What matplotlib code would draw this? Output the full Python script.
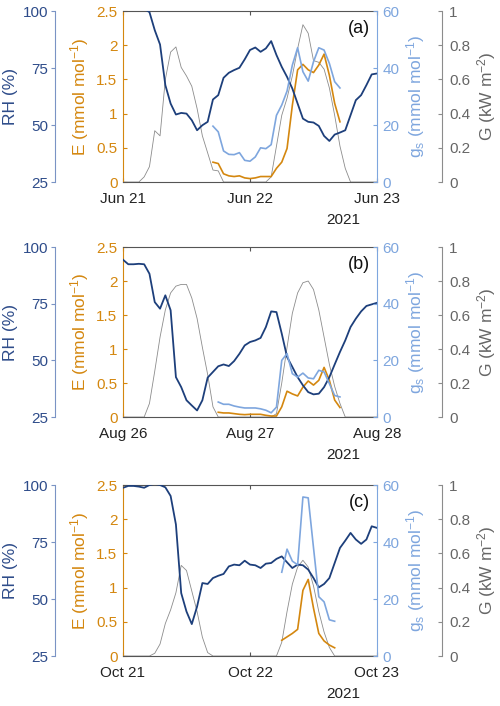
import numpy as np
import matplotlib.pyplot as plt
from matplotlib.ticker import FuncFormatter

plt.rcParams['font.family'] = ['Liberation Sans', 'DejaVu Sans']
plt.rcParams['mathtext.fontset'] = 'custom'
plt.rcParams['mathtext.rm'] = 'Liberation Sans'
plt.rcParams['mathtext.it'] = 'Liberation Sans:italic'

# hourly samples over two days
hours = np.arange(49)

# ---- panel (a): Jun 21-23
dates_a = ['Jun 21', 'Jun 22', 'Jun 23']
rh_a = [101, 101, 101, 101, 101, 99.5, 91.6, 85.3, 67.5, 59.4, 54.6, 55.3, 55.0, 52.1, 47.7,
        49.9, 51.4, 61.2, 63.1, 70.7, 72.9, 74.1, 75.1, 78.8, 82.9, 84.0, 82.1, 83.6, 86.8,
        80.7, 75.5, 71.1, 66.0, 59.4, 52.8, 51.4, 51.1, 49.6, 45.2, 43.0, 45.8, 46.7, 47.7,
        54.3, 60.9, 63.1, 67.5, 72.2, 72.6]
g_a = [0, 0, 0, 0, 0.03, 0.09, 0.30, 0.27, 0.60, 0.76, 0.79, 0.67, 0.62, 0.56, 0.43, 0.27,
       0.17, 0.07, 0.065, 0, 0, 0, 0, 0, 0, 0, 0, 0, 0.03, 0.21, 0.39, 0.49, 0.62, 0.78, 0.92,
       0.87, 0.71, 0.70, 0.66, 0.55, 0.39, 0.21, 0.08, 0, 0, 0, 0, 0, 0]
e_a_start = 17
e_a = [0.29, 0.27, 0.12, 0.09, 0.08, 0.09, 0.06, 0.05, 0.06, 0.08, 0.08, 0.08, 0.20, 0.29,
       0.49, 1.12, 1.64, 1.72, 1.64, 1.60, 1.71, 1.87, 1.56, 1.15, 0.88]
gs_a_start = 17
gs_a = [19.6, 17.6, 10.9, 9.7, 9.6, 10.3, 7.6, 7.3, 8.8, 12.0, 11.7, 13.1, 23.4, 27.0, 31.9,
        41.0, 47.1, 38.7, 35.4, 42.2, 47.1, 46.3, 41.6, 35.2, 33.0]

# ---- panel (b): Aug 26-28
dates_b = ['Aug 26', 'Aug 27', 'Aug 28']
rh_b = [94.4, 92.4, 92.4, 92.6, 92.4, 88.2, 75.7, 72.8, 78.7, 72.1, 42.6, 38.2, 32.4, 30.1,
        27.9, 32.4, 42.4, 44.9, 47.4, 48.2, 47.5, 49.7, 52.9, 56.6, 58.1, 58.8, 59.9, 64.7,
        71.6, 71.3, 61.8, 51.5, 47.1, 42.6, 39.0, 36.0, 35.0, 35.3, 38.2, 42.6, 48.2, 53.7,
        58.8, 64.7, 68.4, 71.6, 74.0, 74.7, 75.4]
g_b = [0, 0, 0, 0, 0, 0.08, 0.27, 0.47, 0.63, 0.73, 0.77, 0.78, 0.78, 0.70, 0.58, 0.41, 0.25,
       0.06, 0, 0, 0, 0, 0, 0, 0, 0, 0, 0, 0, 0.02, 0.20, 0.41, 0.61, 0.73, 0.79, 0.80, 0.75,
       0.63, 0.47, 0.31, 0.18, 0.08, 0, 0, 0, 0, 0, 0, 0]
e_b_start = 18
e_b = [0.07, 0.06, 0.06, 0.05, 0.04, 0.035, 0.04, 0.04, 0.04, 0.025, 0.015, 0.015, 0.15,
       0.38, 0.34, 0.31, 0.44, 0.53, 0.47, 0.54, 0.73, 0.54, 0.25, 0.14]
gs_b_start = 18
gs_b = [5.3, 4.5, 4.5, 3.9, 3.5, 3.2, 3.2, 3.2, 2.9, 2.4, 1.5, 3.5, 20.0, 22.4, 15.3, 14.1,
        15.5, 13.8, 13.5, 16.5, 15.9, 11.8, 7.6, 7.1]

# ---- panel (c): Oct 21-23
dates_c = ['Oct 21', 'Oct 22', 'Oct 23']
rh_c = [98.8, 99.6, 99.6, 99.3, 98.8, 100, 100.5, 100, 99.0, 95.2, 82.7, 52.6, 44.5, 39.0,
        46.7, 57.0, 56.6, 59.2, 60.2, 61.0, 64.3, 65.1, 64.8, 66.8, 65.1, 64.8, 63.6, 65.5,
        65.8, 67.6, 68.7, 66.1, 63.6, 65.1, 64.8, 62.9, 59.2, 55.1, 56.6, 59.2, 65.8, 72.4,
        75.6, 79.0, 76.1, 74.2, 76.1, 81.9, 81.2]
g_c = [0, 0, 0, 0, 0, 0, 0.016, 0.07, 0.19, 0.27, 0.37, 0.53, 0.50, 0.38, 0.26, 0.11, 0.02,
       0, 0, 0, 0, 0, 0, 0, 0, 0, 0, 0, 0, 0, 0.08, 0.26, 0.42, 0.52, 0.56, 0.52, 0.41, 0.26,
       0.14, 0.05, 0, 0, 0, 0, 0, 0, 0, 0, 0]
e_c_start = 30
e_c = [0.23, 0.28, 0.33, 0.39, 0.96, 1.12, 0.70, 0.33, 0.22, 0.16, 0.12]
gs_c_start = 30
gs_c = [29.4, 37.5, 33.3, 32.0, 55.8, 55.5, 38.0, 20.8, 19.0, 12.7, 12.2]

C_RH = '#1D3F7B'
C_RH_TXT = '#2E4C8A'
C_E = '#D4870F'
C_GS = '#7EA6DE'
C_G = '#8C8C8C'
C_G_TXT = '#666666'
C_AX = '#555555'

fmt = FuncFormatter(lambda v, p: f'{v:g}')


def part(start, vals):
    y = np.full(len(hours), np.nan)
    y[start:start + len(vals)] = vals
    return y


def draw_panel(fig, rect, rh, e, gs, g, dates, tag):
    ax = fig.add_axes(rect)
    ax_g = ax.twinx()
    ax_rh = ax.twinx()
    ax_gs = ax.twinx()
    ax_g.set_zorder(1)
    ax.set_zorder(2)
    ax_rh.set_zorder(3)
    ax_gs.set_zorder(4)
    ax.patch.set_visible(False)

    ax_g.plot(hours, g, color=C_G, lw=0.6)
    ax.plot(hours, e, color=C_E, lw=1.2)
    ax_rh.plot(hours, rh, color=C_RH, lw=1.3)
    ax_gs.plot(hours, gs, color=C_GS, lw=1.2)

    # main axis: E on the left, dates below
    ax.set_xlim(0, 48)
    ax.set_ylim(0, 2.5)
    ax.set_yticks([0, 0.5, 1, 1.5, 2, 2.5])
    ax.yaxis.set_major_formatter(fmt)
    ax.set_xticks([0, 24, 48])
    ax.set_xticklabels(dates)
    ax.tick_params(axis='y', direction='in', length=3, colors=C_E, labelsize=11, pad=4)
    ax.tick_params(axis='x', direction='in', length=3, top=True, color=C_AX,
                   labelcolor='#222222', labelsize=11, pad=7)
    ax.spines['left'].set_color(C_E)
    ax.spines['right'].set_visible(False)
    ax.spines['top'].set_color(C_AX)
    ax.spines['bottom'].set_color(C_AX)
    for s in ax.spines.values():
        s.set_linewidth(0.8)
    ax.set_ylabel(r'E (mmol mol$^{\mathregular{-1}}$)', fontsize=12.5, color=C_E)
    ax.yaxis.label.set_va('center')
    ax.yaxis.set_label_coords(-0.173, 0.5)

    # RH axis, pushed out to the left
    ax_rh.set_ylim(25, 100)
    ax_rh.set_yticks([25, 50, 75, 100])
    ax_rh.yaxis.set_ticks_position('left')
    ax_rh.yaxis.set_label_position('left')
    for s in ['right', 'top', 'bottom']:
        ax_rh.spines[s].set_visible(False)
    ax_rh.spines['left'].set_position(('axes', -0.268))
    ax_rh.spines['left'].set_color('#7A93C4')
    ax_rh.spines['left'].set_linewidth(0.8)
    ax_rh.tick_params(axis='y', direction='out', length=3, colors=C_RH_TXT, labelsize=11, pad=2)
    ax_rh.tick_params(axis='y', color='#7A93C4')
    ax_rh.set_ylabel('RH (%)', fontsize=12.5, color=C_RH_TXT)
    ax_rh.yaxis.label.set_va('center')
    ax_rh.yaxis.set_label_coords(-0.441, 0.5)

    # gs axis on the right
    ax_gs.set_ylim(0, 60)
    ax_gs.set_yticks([0, 20, 40, 60])
    for s in ['left', 'top', 'bottom']:
        ax_gs.spines[s].set_visible(False)
    ax_gs.spines['right'].set_color(C_GS)
    ax_gs.spines['right'].set_linewidth(0.8)
    ax_gs.tick_params(axis='y', direction='in', length=3, colors=C_GS, labelsize=11, pad=4)
    ax_gs.set_ylabel(r'g$_{\mathregular{s}}$ (mmol mol$^{\mathregular{-1}}$)', fontsize=12.5,
                     color=C_GS)
    ax_gs.yaxis.label.set_va('center')
    ax_gs.yaxis.set_label_coords(1.150, 0.5)

    # G axis, pushed out to the right
    ax_g.set_ylim(0, 1)
    ax_g.set_yticks([0, 0.2, 0.4, 0.6, 0.8, 1])
    ax_g.yaxis.set_major_formatter(fmt)
    for s in ['left', 'top', 'bottom']:
        ax_g.spines[s].set_visible(False)
    ax_g.spines['right'].set_position(('axes', 1.256))
    ax_g.spines['right'].set_color(C_G)
    ax_g.spines['right'].set_linewidth(0.8)
    ax_g.tick_params(axis='y', direction='in', length=3, color=C_G, labelcolor=C_G_TXT,
                     labelsize=11, pad=5)
    ax_g.set_ylabel(r'G (kW m$^{\mathregular{-2}}$)', fontsize=12.5, color=C_G_TXT)
    ax_g.yaxis.label.set_va('center')
    ax_g.yaxis.set_label_coords(1.433, 0.5)

    ax_gs.text(0.972, 0.90, tag, transform=ax.transAxes, ha='right', va='center',
               fontsize=13, color='#111111')
    ax.text(0.868, -0.222, '2021', transform=ax.transAxes, ha='center', va='center',
            fontsize=11, color='#222222')


fig = plt.figure(figsize=(5, 7.06), dpi=100)

draw_panel(fig, [0.246, 0.7422, 0.508, 0.2422], rh_a, part(e_a_start, e_a),
           part(gs_a_start, gs_a), g_a, dates_a, '(a)')
draw_panel(fig, [0.246, 0.4093, 0.508, 0.2408], rh_b, part(e_b_start, e_b),
           part(gs_b_start, gs_b), g_b, dates_b, '(b)')
draw_panel(fig, [0.246, 0.0708, 0.508, 0.2422], rh_c, part(e_c_start, e_c),
           part(gs_c_start, gs_c), g_c, dates_c, '(c)')

fig.savefig('out.png', dpi=100)
